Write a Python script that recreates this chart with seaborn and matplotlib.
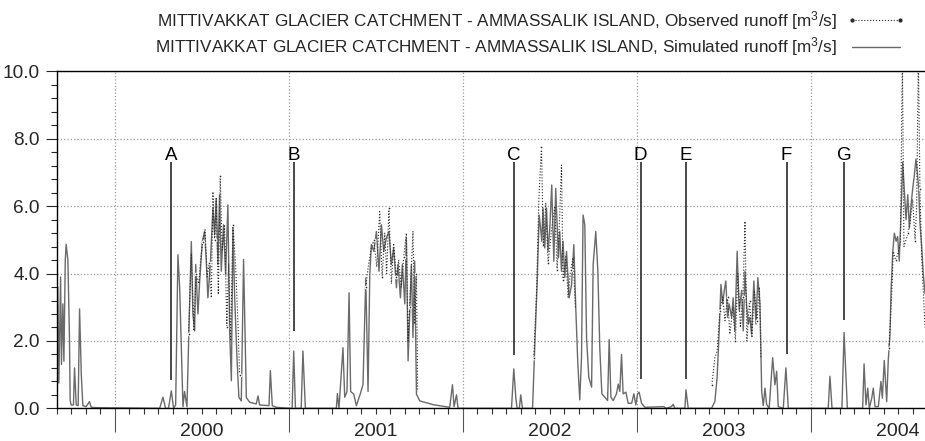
import numpy as np
import pandas as pd
import matplotlib
matplotlib.use("Agg")
import matplotlib.pyplot as plt
import seaborn as sns
from matplotlib.lines import Line2D
from matplotlib.ticker import MultipleLocator, FormatStrFormatter

# simulated runoff (time in decimal years, runoff in m3/s)
sim_t = [1999.665, 1999.674, 1999.680, 1999.690, 1999.695, 1999.703, 1999.709, 1999.717, 1999.722, 1999.732,
         1999.741, 1999.745, 1999.751, 1999.764, 1999.770, 1999.780, 1999.791, 1999.799, 1999.809, 1999.818,
         1999.837, 1999.856, 1999.866, 1999.895,
         2000.259, 2000.278, 2000.293, 2000.310, 2000.326, 2000.339, 2000.351, 2000.364, 2000.374, 2000.383,
         2000.393, 2000.402, 2000.416, 2000.427, 2000.441, 2000.450, 2000.460, 2000.466, 2000.479, 2000.489,
         2000.504, 2000.517, 2000.527, 2000.536, 2000.550, 2000.565, 2000.575, 2000.584, 2000.594, 2000.603,
         2000.613, 2000.626, 2000.638, 2000.651, 2000.661, 2000.671, 2000.680, 2000.690, 2000.703, 2000.714,
         2000.728, 2000.741, 2000.757, 2000.776, 2000.814, 2000.824, 2000.833, 2000.887, 2000.895, 2000.906,
         2000.929,
         2001.006, 2001.020, 2001.029, 2001.039, 2001.072, 2001.082, 2001.096, 2001.274, 2001.280, 2001.289,
         2001.312, 2001.322, 2001.335, 2001.347, 2001.356, 2001.374, 2001.389, 2001.412, 2001.427, 2001.443,
         2001.456, 2001.466, 2001.475, 2001.489, 2001.504, 2001.519, 2001.533, 2001.546, 2001.561, 2001.576,
         2001.590, 2001.603, 2001.619, 2001.628, 2001.642, 2001.653, 2001.667, 2001.676, 2001.686, 2001.695,
         2001.705, 2001.714, 2001.724, 2001.734, 2001.753, 2001.829, 2001.925, 2001.941, 2001.950, 2001.964,
         2001.973,
         2002.280, 2002.293, 2002.305, 2002.312, 2002.325, 2002.333, 2002.343, 2002.401, 2002.414, 2002.427,
         2002.439, 2002.447, 2002.454, 2002.461, 2002.471, 2002.481, 2002.490, 2002.500, 2002.511, 2002.523,
         2002.534, 2002.542, 2002.550, 2002.557, 2002.567, 2002.576, 2002.586, 2002.596, 2002.611, 2002.625,
         2002.638, 2002.649, 2002.661, 2002.672, 2002.682, 2002.691, 2002.701, 2002.711, 2002.724, 2002.740,
         2002.749, 2002.764, 2002.776, 2002.787, 2002.799, 2002.816, 2002.832, 2002.841, 2002.851, 2002.864,
         2002.883, 2002.893, 2002.902, 2002.912, 2002.921, 2002.937, 2002.950, 2002.970, 2002.983, 2002.994,
         2003.004, 2003.013, 2003.027, 2003.046, 2003.155, 2003.167, 2003.199, 2003.209, 2003.218, 2003.276,
         2003.282, 2003.295, 2003.429, 2003.448, 2003.461, 2003.473, 2003.483, 2003.493, 2003.502, 2003.511,
         2003.521, 2003.530, 2003.544, 2003.553, 2003.563, 2003.576, 2003.588, 2003.602, 2003.611, 2003.621,
         2003.630, 2003.640, 2003.649, 2003.659, 2003.672, 2003.684, 2003.695, 2003.707, 2003.717, 2003.726,
         2003.736, 2003.745, 2003.760, 2003.780, 2003.793, 2003.803, 2003.812, 2003.841, 2003.856, 2003.870,
         2004.099, 2004.109, 2004.121, 2004.178, 2004.190, 2004.209, 2004.297, 2004.305, 2004.316, 2004.326,
         2004.335, 2004.349, 2004.358, 2004.368, 2004.387, 2004.402, 2004.410, 2004.421, 2004.435, 2004.444,
         2004.454, 2004.460, 2004.470, 2004.479, 2004.489, 2004.498, 2004.507, 2004.517, 2004.527, 2004.536,
         2004.546, 2004.556, 2004.565, 2004.575, 2004.584, 2004.594, 2004.603, 2004.611, 2004.619, 2004.626,
         2004.636, 2004.645, 2004.655]
sim_q = [3.58, 3.6, 0.75, 3.9, 1.3, 3.1, 1.4, 4.4, 4.87, 4.4,
         2.1, 0.23, 0.1, 0.1, 1.2, 0.1, 0.08, 2.95, 1.0, 0.08,
         0.05, 0.2, 0.03, 0.02,
         0.0, 0.33, 0.0, 0.0, 0.52, 0.0, 0.1, 4.56, 3.58, 1.9,
         0.05, 0.5, 0.05, 2.3, 4.95, 2.8, 2.3, 4.27, 2.8, 3.78,
         4.95, 5.25, 4.37, 3.28, 4.27, 5.94, 5.16, 6.23, 4.27, 6.34,
         4.07, 5.45, 3.98, 6.04, 2.3, 0.82, 5.35, 3.28, 1.51, 0.33,
         0.22, 4.42, 0.32, 0.18, 0.13, 0.37, 0.1, 0.08, 1.12, 0.08,
         0.03,
         0.0, 0.0, 1.7, 0.0, 0.0, 1.7, 0.0, 0.0, 0.44, 0.0,
         1.8, 0.33, 0.5, 3.43, 0.5, 0.42, 0.08, 0.44, 0.7, 3.87,
         0.5, 3.98, 4.86, 4.66, 5.25, 4.07, 5.45, 4.66, 5.05, 5.25,
         4.27, 4.76, 3.58, 4.27, 3.28, 4.27, 3.1, 5.05, 1.41, 2.8,
         4.27, 2.1, 4.37, 0.42, 0.22, 0.11, 0.03, 0.7, 0.05, 0.4,
         0.0,
         0.0, 1.17, 0.3, 0.0, 0.0, 0.4, 0.0, 0.0, 1.9, 3.68,
         5.74, 5.35, 4.96, 5.94, 4.76, 5.94, 4.66, 5.35, 6.63, 4.37,
         6.53, 5.45, 4.47, 5.25, 4.07, 4.96, 3.88, 4.66, 3.28, 3.67,
         4.86, 2.99, 1.32, 0.25, 1.5, 5.74, 5.45, 2.1, 0.92, 0.63,
         4.27, 5.25, 4.07, 1.8, 0.43, 0.33, 0.23, 2.04, 0.33, 0.23,
         0.43, 0.72, 0.5, 1.6, 0.43, 0.48, 0.15, 0.15, 0.43, 0.1,
         0.43, 0.48, 0.15, 0.03, 0.05, 0.0, 0.05, 0.12, 0.0, 0.0,
         0.55, 0.0, 0.0, 0.2, 0.92, 2.3, 3.68, 3.1, 3.5, 3.78,
         2.7, 3.1, 2.7, 3.28, 2.3, 4.66, 2.9, 3.5, 2.3, 4.07,
         3.1, 2.5, 2.7, 2.2, 3.78, 2.5, 3.88, 3.1, 0.5, 0.08,
         0.6, 0.12, 0.0, 1.5, 0.7, 1.1, 0.05, 0.0, 1.2, 0.0,
         0.0, 0.95, 0.0, 0.0, 2.25, 0.0, 0.0, 1.32, 0.1, 0.6,
         0.0, 0.3, 0.6, 0.05, 0.05, 0.8, 0.3, 1.42, 0.2, 1.42,
         2.2, 3.48, 4.66, 5.2, 4.96, 5.1, 4.37, 5.74, 7.3, 6.5,
         5.6, 6.34, 5.35, 6.04, 6.5, 6.93, 7.4, 7.0, 6.5, 5.5,
         4.8, 4.0, 3.4]

# observed runoff, only during the melt seasons
obs_t = [2000.425, 2000.441, 2000.456, 2000.468, 2000.484, 2000.494, 2000.507, 2000.520, 2000.532, 2000.543,
         2000.556, 2000.565, 2000.575, 2000.584, 2000.596, 2000.607, 2000.618, 2000.632, 2000.645, 2000.655,
         2000.667, 2000.680, 2000.695, 2000.709, 2000.718,
         2001.443, 2001.457, 2001.475, 2001.489, 2001.506, 2001.523, 2001.537, 2001.552, 2001.563, 2001.576,
         2001.590, 2001.603, 2001.619, 2001.632, 2001.647, 2001.661, 2001.676, 2001.686, 2001.695, 2001.714,
         2001.724, 2001.734, 2001.741,
         2002.408, 2002.424, 2002.437, 2002.452, 2002.463, 2002.477, 2002.490, 2002.510, 2002.529, 2002.542,
         2002.556, 2002.567, 2002.576, 2002.592, 2002.605, 2002.619, 2002.634, 2002.647,
         2003.431, 2003.448, 2003.461, 2003.477, 2003.493, 2003.506, 2003.521, 2003.534, 2003.552, 2003.566,
         2003.580, 2003.595, 2003.609, 2003.621, 2003.632, 2003.647, 2003.661, 2003.675, 2003.690, 2003.704,
         2003.713,
         2004.448, 2004.464, 2004.473, 2004.486, 2004.500, 2004.514, 2004.525, 2004.534, 2004.546, 2004.557,
         2004.569, 2004.584, 2004.598, 2004.607, 2004.617, 2004.626, 2004.636, 2004.655]
obs_q = [2.2, 4.6, 2.3, 4.0, 3.7, 4.4, 4.95, 5.3, 3.9, 4.3,
         3.28, 6.43, 5.0, 6.23, 3.38, 6.9, 4.7, 5.45, 2.4, 4.3,
         2.0, 5.45, 4.27, 2.5, 1.0,
         3.6, 4.2, 4.76, 5.0, 4.2, 5.84, 3.9, 5.2, 4.0, 5.94,
         3.7, 4.9, 3.9, 4.4, 3.6, 4.5, 5.2, 2.0, 3.0, 5.25,
         2.5, 4.0, 0.5,
         1.5, 3.5, 6.2, 7.76, 4.8, 6.1, 4.3, 5.3, 6.0, 4.1,
         5.6, 7.22, 3.8, 4.5, 3.3, 4.1, 4.47, 3.0,
         0.7, 1.5, 1.7, 2.9, 3.3, 2.6, 3.3, 2.2, 3.0, 2.0,
         4.0, 2.4, 3.3, 5.55, 2.0, 3.2, 2.1, 3.5, 2.6, 3.6,
         1.5,
         1.8, 3.4, 4.66, 4.4, 4.6, 4.9, 10.5, 4.8, 5.0, 5.2,
         5.5, 6.2, 4.98, 6.0, 10.5, 6.5, 4.5, 2.4]

# marked events
event_names = ["A", "B", "C", "D", "E", "F", "G"]
event_t = [2000.326, 2001.029, 2002.293, 2003.021, 2003.282, 2003.860, 2004.191]
event_low = [0.83, 2.3, 1.59, 0.88, 0.88, 1.61, 2.62]
event_high = 7.3

years = [2000, 2001, 2002, 2003, 2004]

sim_label = "MITTIVAKKAT GLACIER CATCHMENT - AMMASSALIK ISLAND, Simulated runoff [m$^3$/s]"
obs_label = "MITTIVAKKAT GLACIER CATCHMENT - AMMASSALIK ISLAND, Observed runoff [m$^3$/s]"

sns.set_style("ticks")
plt.rcParams["font.family"] = ["Liberation Sans", "DejaVu Sans"]
plt.rcParams["mathtext.fontset"] = "custom"
plt.rcParams["mathtext.rm"] = "Liberation Sans"
plt.rcParams["mathtext.it"] = "Liberation Sans"

sim_df = pd.DataFrame({"t": sim_t, "q": sim_q})
obs_df = pd.DataFrame({"t": obs_t, "q": obs_q})
obs_df["season"] = np.floor(obs_df["t"]).astype(int)

fig = plt.figure(figsize=(9.25, 4.41), dpi=100)
ax = fig.add_axes([0.0611, 0.0741, 0.9389, 0.7638])

sim_col = "#6a6a6a"
obs_col = "#2a2a2a"

sns.lineplot(data=sim_df, x="t", y="q", ax=ax, color=sim_col, linewidth=1.0,
             estimator=None, sort=False)
sns.lineplot(data=obs_df, x="t", y="q", units="season", ax=ax, color=obs_col,
             linewidth=0.8, linestyle=":", marker="o", markersize=2,
             markevery=3, estimator=None, sort=False)

ax.vlines(event_t, event_low, event_high, color="#3a3a3a", linewidth=1.3)
for name, t in zip(event_names, event_t):
    ax.text(t, 7.38, name, ha="center", va="baseline", fontsize=13.5, color="black")

ax.set_xlim(1999 + 8 / 12, 2004.655)
ax.set_ylim(0, 10)

ax.set_xticks(years)
ax.set_xticklabels([])
ax.xaxis.set_minor_locator(MultipleLocator(1 / 12))
ax.tick_params(axis="x", which="major", length=17, width=0.8, color="#555555")
ax.tick_params(axis="x", which="minor", length=4.5, width=0.8, color="#333333")
for y in years:
    ax.text(y + 0.5, -0.093, str(y), transform=ax.get_xaxis_transform(),
            ha="center", va="bottom", fontsize=14)

ax.yaxis.set_major_locator(MultipleLocator(2))
ax.yaxis.set_minor_locator(MultipleLocator(0.4))
ax.yaxis.set_major_formatter(FormatStrFormatter("%.1f"))
ax.tick_params(axis="y", which="major", length=8, width=0.8, labelsize=13.7, pad=4)
ax.tick_params(axis="y", which="minor", length=4.5, width=0.8)

ax.grid(True, which="major", linestyle=":", color="#9a9a9a", linewidth=0.9)
ax.set_xlabel("")
ax.set_ylabel("")
for side in ["left", "bottom", "top"]:
    ax.spines[side].set_visible(True)
    ax.spines[side].set_linewidth(1.0)
    ax.spines[side].set_color("black")
ax.spines["right"].set_visible(False)

handles = [Line2D([], [], color=obs_col, linestyle=":", linewidth=0.8, marker="o", markersize=2),
           Line2D([], [], color=sim_col, linewidth=1.0)]
fig.legend(handles, [obs_label, sim_label], loc="upper right",
           bbox_to_anchor=(905 / 925, 1 - 9 / 441), frameon=False, markerfirst=False,
           fontsize=12.3, handlelength=3.4, handletextpad=0.6, labelspacing=0.2,
           borderpad=0, borderaxespad=0, numpoints=2)

fig.savefig("out.png", dpi=100)
